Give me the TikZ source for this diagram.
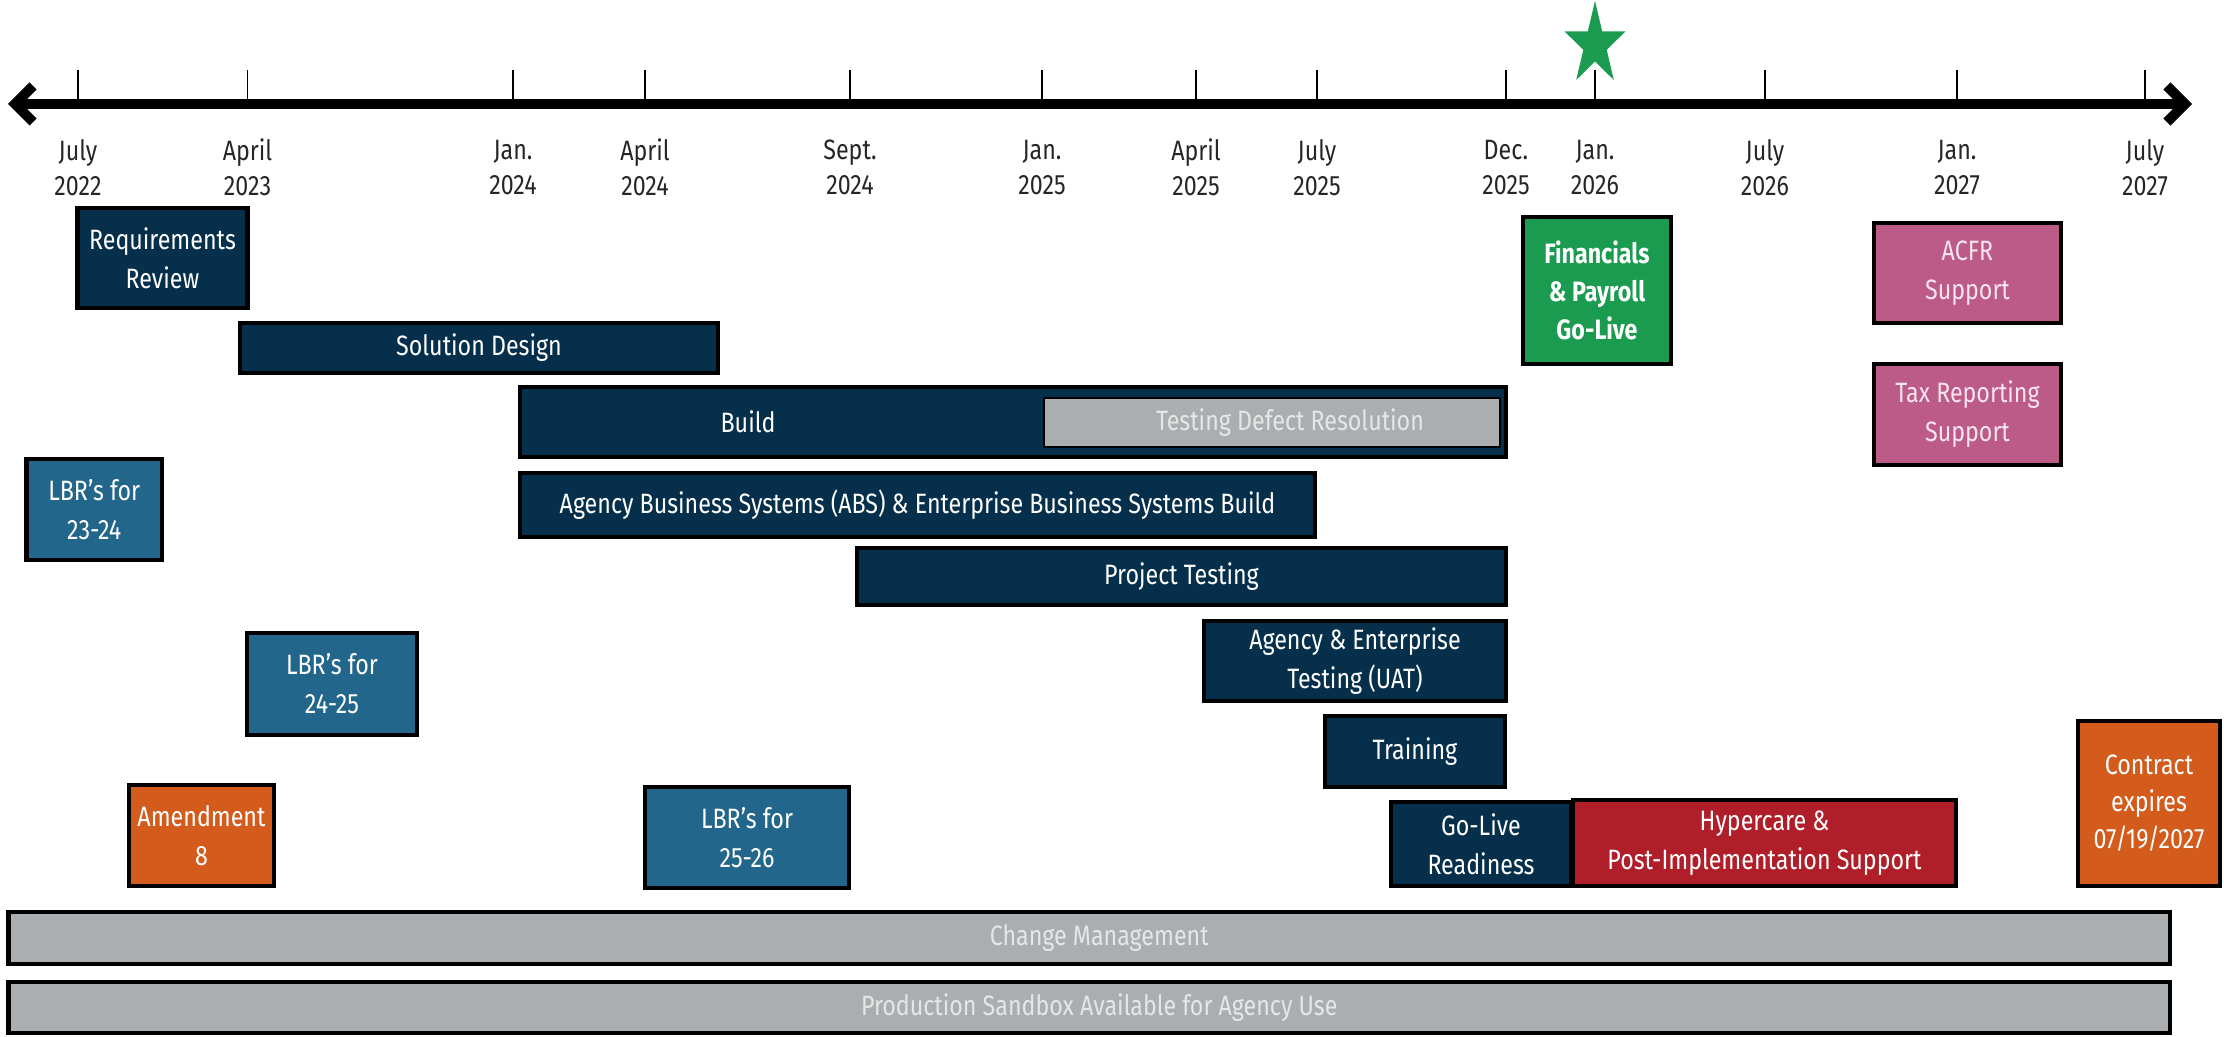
\documentclass[tikz,border=0pt]{standalone}
\usepackage{fontspec}
\setmainfont{Fira Sans}[FakeStretch=0.83]
\usetikzlibrary{arrows.meta}
\definecolor{navy}{HTML}{052F4A}
\definecolor{lbrblue}{HTML}{22668B}
\definecolor{amber}{HTML}{D35B1B}
\definecolor{golive}{HTML}{1B9B50}
\definecolor{rose}{HTML}{BC5B87}
\definecolor{hyperred}{HTML}{B01F29}
\definecolor{bargray}{HTML}{ABAEB0}
\definecolor{lighttext}{HTML}{E6E6E6}
\definecolor{rosetext}{HTML}{F7E4EE}
\definecolor{axistext}{HTML}{262626}
\newcommand\tbox[7]{\node[#6, minimum width={(#4-#2)*0.5pt}, minimum height={(#5-#3)*0.5pt}] (#1) at ({(#2+#4)/2},{(#3+#5)/2}) {#7};}
\begin{document}
\begin{tikzpicture}[x=0.5pt,y=-0.5pt,
  bx/.style={draw=black, line width=2.3pt, inner sep=0pt, outer sep=0pt, text=white, align=center, font=\fontsize{14}{19.5}\selectfont},
  navybox/.style={bx, fill=navy},
  bluebox/.style={bx, fill=lbrblue},
  orangebox/.style={bx, fill=amber},
  greenbox/.style={bx, fill=golive, font=\fontsize{14}{19}\selectfont\bfseries},
  pinkbox/.style={bx, fill=rose, text=rosetext},
  redbox/.style={bx, fill=hyperred},
  graybar/.style={bx, fill=bargray, text=lighttext},
  tk/.style={line width=0.8pt, black},
  axl/.style={align=center, text=axistext, font=\fontsize{14}{17.5}\selectfont, inner sep=0pt},
  txt/.style={text=white, font=\fontsize{14}{19.5}\selectfont, inner sep=0pt}]
\useasboundingbox (0,0) rectangle (2224,1037);

% axis
\coordinate (axL) at (8,104);
\coordinate (axR) at (2192,104);
\draw[line width=5pt, {Straight Barb[length=9pt,width=18pt]}-{Straight Barb[length=9pt,width=18pt]}] (axL) -- (axR);
\foreach \x/\a/\b [count=\i] in {78/July/2022, 247.5/April/2023, 513/Jan./2024, 645/April/2024, 850/Sept./2024, 1042/Jan./2025, 1196/April/2025, 1317/July/2025, 1506/Dec./2025, 1595/Jan./2026, 1765/July/2026, 1957/Jan./2027, 2145/July/2027} {
  \draw[tk] (\x,70) -- (\x,104);
  \node[axl] (lab\i) at (\x,167.5) {\a\\\b};
}

% star
\fill[golive] (1595,1) -- (1602.2,31.4) -- (1625.5,31.4) -- (1606.7,49.8) -- (1613.8,80) -- (1595,61.5) -- (1576.2,80) -- (1583.3,49.8) -- (1564.5,31.4) -- (1587.8,31.4) -- cycle;

% boxes
\tbox{req}{77.5}{208}{247.5}{308}{navybox}{Requirements\\Review}
\tbox{sol}{240}{323}{718}{373}{navybox}{Solution Design}
\tbox{build}{520}{387}{1506}{457}{navybox}{}
\node[txt] (buildlabel) at (748,422) {Build};
\tbox{tdr}{1044}{398}{1500}{447}{graybar, line width=1pt}{\hspace*{18pt}Testing Defect Resolution}
\tbox{abs}{520}{473}{1315}{537}{navybox}{Agency Business Systems (ABS) \& Enterprise Business Systems Build}
\tbox{pt}{857}{548}{1506}{605}{navybox}{Project Testing}
\tbox{uat}{1204}{621}{1506}{701}{navybox}{Agency \& Enterprise\\Testing (UAT)}
\tbox{train}{1325}{716}{1505}{787}{navybox}{Training}
\tbox{glr}{1391}{802}{1571}{886}{navybox}{Go-Live\\Readiness}
\tbox{hyp}{1573}{800}{1956}{886}{redbox}{Hypercare \&\\Post-Implementation Support}
\tbox{lbra}{26.5}{459}{162}{560}{bluebox}{LBR's for\\23-24}
\tbox{lbrb}{247}{633}{417}{735}{bluebox}{LBR's for\\24-25}
\tbox{amd}{129}{785}{274}{886}{orangebox}{Amendment\\8}
\tbox{lbrc}{645}{787}{849}{888}{bluebox}{LBR's for\\25-26}
\tbox{fin}{1523}{217}{1671}{364}{greenbox}{Financials\\\& Payroll\\Go-Live}
\tbox{acfr}{1874}{223}{2061}{323}{pinkbox}{ACFR\\Support}
\tbox{tax}{1874}{364}{2061}{465}{pinkbox}{Tax Reporting\\Support}
\tbox{contract}{2078}{721}{2220}{886}{orangebox, font=\fontsize{14}{18.5}\selectfont}{Contract\\expires\\07/19/2027}
\tbox{cm}{8.5}{912}{2170}{964}{graybar}{\hspace*{10pt}Change Management}
\tbox{psb}{8.5}{982}{2170}{1033}{graybar}{\hspace*{10pt}Production Sandbox Available for Agency Use}
\end{tikzpicture}
\end{document}
